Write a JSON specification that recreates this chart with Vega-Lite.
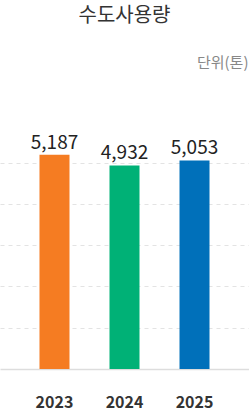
{
  "$schema": "https://vega.github.io/schema/vega-lite/v6.json",
  "autosize": {"type": "none"},
  "width": 249,
  "height": 289,
  "padding": {"top": 80, "left": 0, "right": 0, "bottom": 42},
  "background": "white",
  "title": {
    "text": "수도사용량",
    "font": "Noto Sans CJK KR",
    "fontSize": 20,
    "fontWeight": "normal",
    "color": "#333333",
    "anchor": "middle",
    "offset": 29
  },
  "config": {"view": {"stroke": null}},
  "data": {
    "values": [
      {"year": "2023", "value": 5187},
      {"year": "2024", "value": 4932},
      {"year": "2025", "value": 5053}
    ]
  },
  "encoding": {
    "x": {
      "field": "year",
      "type": "nominal",
      "sort": null,
      "scale": {"paddingInner": 0.5714, "paddingOuter": 0.564},
      "axis": {
        "title": null,
        "labelAngle": 0,
        "ticks": false,
        "labelPadding": 25,
        "labelFont": "Noto Sans CJK KR",
        "labelFontSize": 16,
        "labelFontWeight": "bold",
        "labelColor": "#333333",
        "domainColor": "#dddddd",
        "domainWidth": 1.5
      }
    },
    "y": {
      "field": "value",
      "type": "quantitative",
      "scale": {"domain": [0, 7000], "nice": false},
      "axis": {
        "orient": "left",
        "values": [1000, 2000, 3000, 4000, 5000],
        "labels": false,
        "ticks": false,
        "domain": false,
        "grid": true,
        "gridDash": [4, 4],
        "gridColor": "#e3e3e3",
        "gridWidth": 1,
        "title": "단위(톤)",
        "titleAngle": 0,
        "titleAlign": "right",
        "titleBaseline": "middle",
        "titleX": 248,
        "titleY": -18,
        "titleFont": "Noto Sans CJK KR",
        "titleFontSize": 15,
        "titleFontWeight": "normal",
        "titleColor": "#888888"
      }
    }
  },
  "layer": [
    {
      "mark": {"type": "bar"},
      "encoding": {
        "color": {
          "field": "year",
          "type": "nominal",
          "scale": {"domain": ["2023", "2024", "2025"], "range": ["#F57C22", "#00B176", "#0070BA"]},
          "legend": null
        }
      }
    },
    {
      "mark": {
        "type": "text",
        "baseline": "alphabetic",
        "dy": -6,
        "font": "Noto Sans CJK KR",
        "fontSize": 19,
        "color": "#222222"
      },
      "encoding": {
        "text": {"field": "value", "type": "quantitative", "format": ","}
      }
    }
  ]
}
